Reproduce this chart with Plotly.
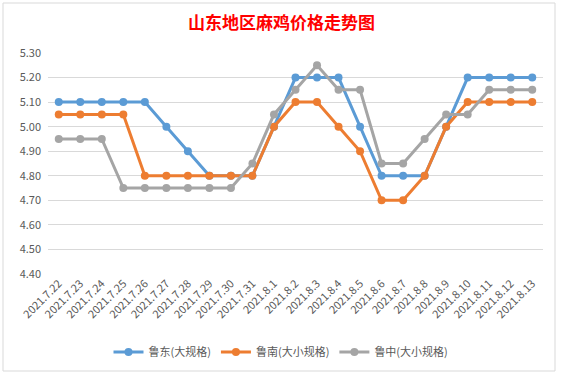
import plotly.graph_objects as go

dates = ["2021.7.22", "2021.7.23", "2021.7.24", "2021.7.25", "2021.7.26", "2021.7.27",
         "2021.7.28", "2021.7.29", "2021.7.30", "2021.7.31", "2021.8.1", "2021.8.2",
         "2021.8.3", "2021.8.4", "2021.8.5", "2021.8.6", "2021.8.7", "2021.8.8",
         "2021.8.9", "2021.8.10", "2021.8.11", "2021.8.12", "2021.8.13"]

ludong = [5.10, 5.10, 5.10, 5.10, 5.10, 5.00, 4.90, 4.80, 4.80, 4.80, 5.00, 5.20,
          5.20, 5.20, 5.00, 4.80, 4.80, 4.80, 5.00, 5.20, 5.20, 5.20, 5.20]
lunan = [5.05, 5.05, 5.05, 5.05, 4.80, 4.80, 4.80, 4.80, 4.80, 4.80, 5.00, 5.10,
         5.10, 5.00, 4.90, 4.70, 4.70, 4.80, 5.00, 5.10, 5.10, 5.10, 5.10]
luzhong = [4.95, 4.95, 4.95, 4.75, 4.75, 4.75, 4.75, 4.75, 4.75, 4.85, 5.05, 5.15,
           5.25, 5.15, 5.15, 4.85, 4.85, 4.95, 5.05, 5.05, 5.15, 5.15, 5.15]

series = [("鲁东(大规格)", ludong, "#5B9BD5"),
          ("鲁南(大小规格)", lunan, "#ED7D31"),
          ("鲁中(大小规格)", luzhong, "#A5A5A5")]

font_family = "Noto Sans CJK SC, Noto Sans, sans-serif"

fig = go.Figure()
for name, vals, color in series:
    fig.add_trace(go.Scatter(
        x=dates, y=vals, name=name, mode="lines+markers",
        line=dict(color=color, width=3),
        marker=dict(color=color, size=8),
    ))

W, H = 563, 374
L, R, T, B = 48, 20, 53, 100
pw, ph = W - L - R, H - T - B

def px_x(x):
    return (x - L) / pw

def px_y(y):
    return (H - B - y) / ph

fig.update_layout(
    width=W, height=H,
    margin=dict(l=L, r=R, t=T, b=B, autoexpand=False),
    paper_bgcolor="white", plot_bgcolor="white",
    title=dict(text="<b>山东地区麻鸡价格走势图</b>", x=0.5, xanchor="center",
               y=1 - 23 / H, yanchor="middle",
               font=dict(family=font_family, size=17, color="#FF0000")),
    font=dict(family=font_family, color="#595959", size=11),
    showlegend=True,
    legend=dict(orientation="h", x=px_x(281), xanchor="center", y=px_y(352), yanchor="middle",
                font=dict(size=11, color="#595959"), itemwidth=30,
                bgcolor="rgba(0,0,0,0)"),
    xaxis=dict(type="category", range=[-0.5, len(dates) - 0.5], tickangle=-45,
               showgrid=False, showline=False, ticks="", zeroline=False, automargin=False,
               tickfont=dict(size=11, color="#595959")),
    yaxis=dict(range=[4.40, 5.30], dtick=0.1, tick0=4.40, tickformat=".2f",
               showgrid=True, gridcolor="#D9D9D9", gridwidth=1, zeroline=False,
               showline=False, ticks="", automargin=False, ticklabelstandoff=6,
               tickfont=dict(size=11, color="#595959")),
    shapes=[dict(type="rect", xref="paper", yref="paper",
                 x0=px_x(3), x1=px_x(555), y0=px_y(371), y1=px_y(3),
                 line=dict(color="#D9D9D9", width=1), fillcolor="rgba(0,0,0,0)",
                 layer="below")],
)

fig.write_html("out.html", config={"displayModeBar": False},
               post_script="document.body.style.margin='0';")
